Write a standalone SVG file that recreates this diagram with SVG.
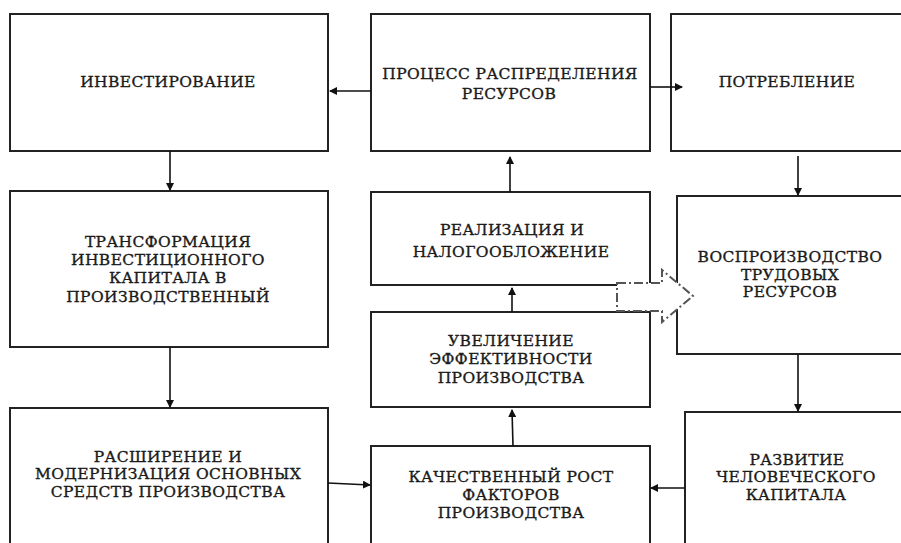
<svg xmlns="http://www.w3.org/2000/svg" width="901" height="543" viewBox="0 0 901 543">
<defs>
<marker id="ah" markerWidth="8" markerHeight="8" refX="7" refY="4" orient="auto" markerUnits="userSpaceOnUse">
<path d="M0,0 L8,4 L0,8 Z" fill="#111"/>
</marker>
<style>
.box{fill:#fff;stroke:#222;stroke-width:2}
.t{font-family:"DejaVu Serif","Liberation Serif",serif;font-size:15.5px;fill:#1a1a1a;stroke:#1a1a1a;stroke-width:0.35;text-anchor:middle;letter-spacing:0.4px}
.c{stroke:#111;stroke-width:1.6;fill:none;marker-end:url(#ah)}
.dash{fill:#fff;stroke:#555;stroke-width:2;stroke-dasharray:9,3,2,3}
</style>
</defs>
<rect width="901" height="543" fill="#fff"/>
<g id="n-invest"><rect class="box" x="10" y="14" width="318" height="137"/><text class="t" x="168" y="87">ИНВЕСТИРОВАНИЕ</text></g>
<g id="n-process"><rect class="box" x="371" y="14" width="279" height="137"/><text class="t" x="510" y="79">ПРОЦЕСС РАСПРЕДЕЛЕНИЯ</text><text class="t" x="509" y="99">РЕСУРСОВ</text></g>
<g id="n-consume"><rect class="box" x="671" y="14" width="240" height="137"/><text class="t" x="787" y="87">ПОТРЕБЛЕНИЕ</text></g>
<g id="n-transform"><rect class="box" x="10" y="191" width="318" height="156"/><text class="t" x="168" y="247">ТРАНСФОРМАЦИЯ</text><text class="t" x="168" y="265">ИНВЕСТИЦИОННОГО</text><text class="t" x="168" y="283">КАПИТАЛА В</text><text class="t" x="168" y="302">ПРОИЗВОДСТВЕННЫЙ</text></g>
<g id="n-realize"><rect class="box" x="371" y="192" width="279" height="93"/><text class="t" x="512" y="235">РЕАЛИЗАЦИЯ И</text><text class="t" x="511" y="257">НАЛОГООБЛОЖЕНИЕ</text></g>
<g id="n-efficiency"><rect class="box" x="371" y="312" width="279" height="95"/><text class="t" x="511" y="346">УВЕЛИЧЕНИЕ</text><text class="t" x="511" y="364">ЭФФЕКТИВНОСТИ</text><text class="t" x="511" y="383">ПРОИЗВОДСТВА</text></g>
<g id="n-reproduce"><rect class="box" x="677" y="196" width="234" height="158"/><text class="t" x="790" y="262">ВОСПРОИЗВОДСТВО</text><text class="t" x="790" y="280">ТРУДОВЫХ</text><text class="t" x="790" y="297">РЕСУРСОВ</text></g>
<g id="n-expand"><rect class="box" x="10" y="408" width="318" height="145"/><text class="t" x="168" y="462">РАСШИРЕНИЕ И</text><text class="t" x="168" y="479">МОДЕРНИЗАЦИЯ ОСНОВНЫХ</text><text class="t" x="168" y="497">СРЕДСТВ ПРОИЗВОДСТВА</text></g>
<g id="n-quality"><rect class="box" x="371" y="446" width="279" height="107"/><text class="t" x="511" y="482">КАЧЕСТВЕННЫЙ РОСТ</text><text class="t" x="511" y="500">ФАКТОРОВ</text><text class="t" x="511" y="518">ПРОИЗВОДСТВА</text></g>
<g id="n-human"><rect class="box" x="685" y="412" width="226" height="141"/><text class="t" x="797" y="465">РАЗВИТИЕ</text><text class="t" x="796" y="482">ЧЕЛОВЕЧЕСКОГО</text><text class="t" x="796" y="500">КАПИТАЛА</text></g>
<g id="connectors">
<line class="c" x1="371" y1="91" x2="330" y2="91"/>
<line class="c" x1="650" y1="87" x2="682" y2="87"/>
<line class="c" x1="170" y1="151" x2="170" y2="190"/>
<line class="c" x1="170" y1="347" x2="170" y2="407"/>
<line class="c" x1="510" y1="192" x2="510" y2="157"/>
<line class="c" x1="512" y1="312" x2="512" y2="288"/>
<line class="c" x1="513" y1="446" x2="512" y2="410"/>
<line class="c" x1="798" y1="156" x2="798" y2="195"/>
<line class="c" x1="798" y1="354" x2="798" y2="411"/>
<line class="c" x1="328" y1="483" x2="370" y2="485"/>
<line class="c" x1="685" y1="488" x2="651" y2="488"/>
<path class="dash" d="M617,283 L662,283 L662,270 L693,296 L662,322 L662,311 L617,311 Z"/>
</g>
</svg>
